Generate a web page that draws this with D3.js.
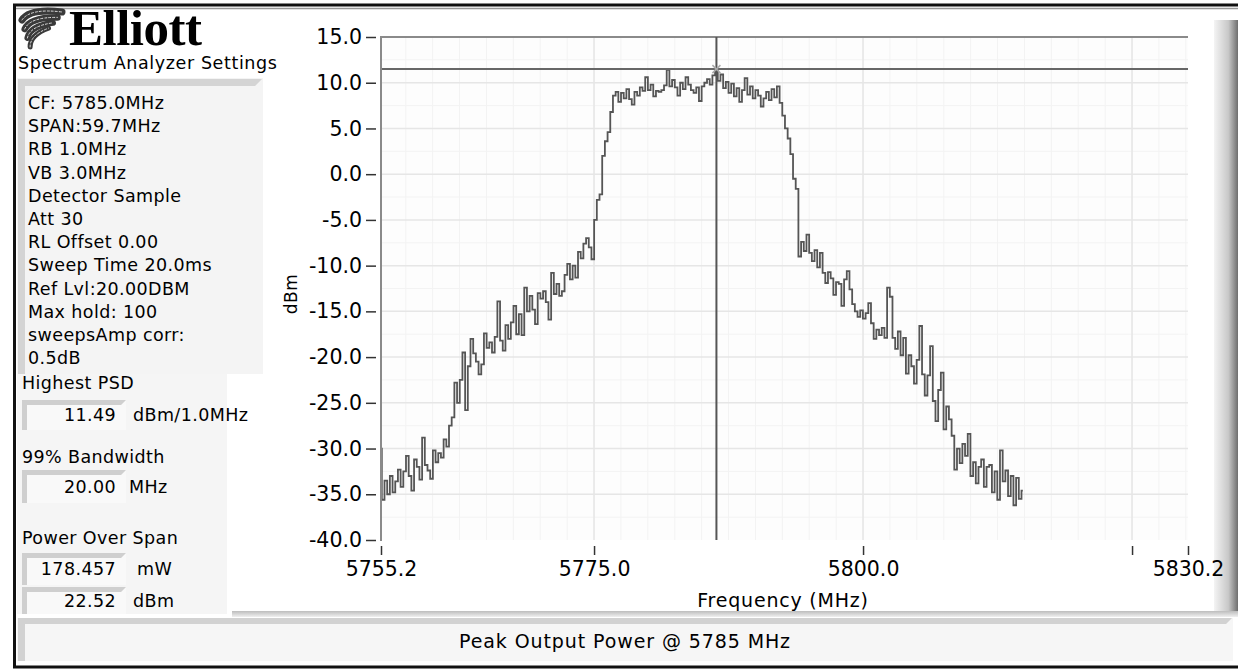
<!DOCTYPE html>
<html><head><meta charset="utf-8">
<script src="https://cdn.jsdelivr.net/npm/d3@7"></script>
<style>
html,body{margin:0;padding:0;background:#fff;}
svg{display:block;}
text{font-family:"DejaVu Sans",Verdana,sans-serif;fill:#000;}
.pt{font-size:17.5px;letter-spacing:0.4px;}
</style></head>
<body>
<svg id="chart" width="1238" height="669"></svg>
<script>
// ---- data ----
const centerFreq = 5785.0;   // MHz
const spanMHz = 59.7;        // MHz
const xDomain = [5755.2, 5830.2];
const yDomain = [-40, 15];
const yTicks = [-40, -35, -30, -25, -20, -15, -10, -5, 0, 5, 10, 15];
const xTickLabels = ["5755.2", "5775.0", "5800.0", "5830.2"];
const xTicksUnlabeled = [5825.0];
const traceDbm = [
 -30.0,-35.6,-33.5,-35.0,-33.0,-34.8,-33.6,-32.3,-34.2,-32.5,
 -30.8,-33.0,-34.6,-31.2,-32.0,-33.4,-28.8,-31.8,-32.4,-33.3,
 -30.2,-31.5,-30.5,-31.0,-29.0,-29.8,-27.5,-26.6,-22.8,-25.0,
 -22.5,-19.5,-25.8,-21.0,-18.0,-19.6,-20.5,-21.9,-20.8,-17.4,
 -19.0,-18.4,-19.5,-17.8,-13.9,-18.2,-19.3,-16.5,-18.0,-16.2,
 -14.4,-17.5,-15.3,-17.6,-12.4,-15.0,-13.3,-14.8,-16.4,-13.0,
 -13.6,-12.8,-14.0,-15.9,-10.8,-13.1,-12.0,-13.3,-12.8,-11.0,
  -9.8,-11.5,-10.0,-11.3, -8.5, -9.2, -7.6, -7.0, -8.0, -9.3,
  -5.0, -2.8, -2.2,  2.0,  3.6,  4.6,  6.8,  8.6,  9.0,  7.9,
   8.9,  8.3,  9.3,  8.2,  7.6,  9.0,  8.6,  9.5,  9.1, 10.6,
   9.2,  9.8,  8.5,  9.1,  9.0,  9.2,  9.7, 11.4,  9.6, 10.3,
   9.5,  8.6, 10.0,  9.3, 10.6,  9.8,  9.2,  8.9,  9.5,  8.0,
   9.6, 10.0, 10.4,  9.8, 10.8, 11.49,10.2, 10.9,  9.4, 10.1,
   8.9,  9.9,  8.5,  9.4,  7.9,  9.2, 10.5,  8.7,  9.6,  8.3,
   9.2,  8.6,  7.4,  8.3,  9.0,  8.1,  9.3,  8.4,  9.6,  7.8,
   6.4,  5.0,  3.9,  2.2, -0.5, -1.6, -9.0, -7.4, -8.4, -6.6,
  -8.6, -9.5, -8.3,-10.2, -8.6,-10.8,-11.9,-10.7,-11.4,-13.2,
 -11.8,-12.0,-14.4,-11.5,-10.6,-12.6,-14.2,-15.0,-15.6,-14.9,
 -15.8,-15.2,-14.1,-16.3,-18.0,-17.0,-17.6,-16.8,-17.9,-12.4,
 -13.4,-17.9,-19.1,-17.2,-19.8,-17.9,-21.8,-19.8,-21.0,-22.9,
 -20.3,-16.6,-21.9,-24.2,-22.0,-18.8,-24.8,-27.0,-23.6,-21.7,
 -27.9,-25.4,-26.8,-28.6,-32.3,-30.0,-31.6,-29.5,-30.8,-28.4,
 -33.0,-31.5,-33.8,-32.0,-31.2,-34.2,-32.0,-31.8,-34.8,-32.5,
 -35.6,-30.2,-33.6,-32.4,-35.2,-33.0,-36.2,-33.2,-35.5,-34.6
];
const settingsLines = ["CF: 5785.0MHz","SPAN:59.7MHz","RB 1.0MHz","VB 3.0MHz","Detector Sample","Att 30","RL Offset 0.00","Sweep Time 20.0ms","Ref Lvl:20.00DBM","Max hold: 100","sweepsAmp corr:","0.5dB"];
const highestPSD = "11.49";
const bandwidth99 = "20.00";
const powerMw = "178.457";
const powerDbm = "22.52";
const statusText = "Peak Output Power @ 5785 MHz";

// ---- drawing ----
const svg = d3.select("#chart");
const defs = svg.append("defs");
const g1 = defs.append("linearGradient").attr("id","scroll").attr("x1","0").attr("x2","1");
g1.append("stop").attr("offset","0").attr("stop-color","#f4f4f4");
g1.append("stop").attr("offset","0.6").attr("stop-color","#c8c8c8");
g1.append("stop").attr("offset","1").attr("stop-color","#6e6e6e");
const g3 = defs.append("linearGradient").attr("id","sep").attr("x1","0").attr("x2","0").attr("y1","0").attr("y2","1");
g3.append("stop").attr("offset","0").attr("stop-color","#bdbdbd");
g3.append("stop").attr("offset","1").attr("stop-color","#f0f0f0");

// outer frame
svg.append("rect").attr("x",0).attr("y",0).attr("width",1238).attr("height",669).attr("fill","#fff");
svg.append("line").attr("x1",13).attr("x2",1238).attr("y1",5).attr("y2",5).attr("stroke","#111").attr("stroke-width",3);
svg.append("line").attr("x1",13).attr("x2",1238).attr("y1",8.5).attr("y2",8.5).attr("stroke","#999").attr("stroke-width",1.5);
svg.append("line").attr("x1",14.5).attr("x2",14.5).attr("y1",4).attr("y2",668).attr("stroke","#111").attr("stroke-width",3);
svg.append("line").attr("x1",13).attr("x2",1238).attr("y1",667).attr("y2",667).attr("stroke","#111").attr("stroke-width",3);

// right scrollbar-like edge
svg.append("rect").attr("x",1214).attr("y",20).attr("width",24).attr("height",592).attr("fill","url(#scroll)");

// left panels
svg.append("rect").attr("x",17).attr("y",78).attr("width",246).attr("height",296).attr("fill","#f4f4f4");
svg.append("path").attr("d","M18,374 L18,79 L262,79 L255,86 L25,86 L25,374 Z").attr("fill","#d4d4d4");
svg.append("rect").attr("x",17).attr("y",374).attr("width",210).attr("height",240).attr("fill","#f5f5f5");

// logo
const logo = svg.append("g").attr("fill","none").attr("stroke","#3a3a3a").attr("stroke-linecap","round");
[[0,7],[9,6.5],[18,6],[27,5]].forEach(([dy,w])=>{
  logo.append("path").attr("d",`M${22+dy*0.3},${20+dy} Q${30},${8+dy} ${62-dy*0.5},${12+dy*0.6}`).attr("stroke-width",w);
  logo.append("path").attr("d",`M${22+dy*0.3},${20+dy} Q${30},${8+dy} ${62-dy*0.5},${12+dy*0.6}`).attr("stroke","#ddd").attr("stroke-width",1).attr("stroke-dasharray","2,2");
});
svg.append("text").attr("x",69).attr("y",45).text("Elliott")
  .style("font-family","'Liberation Serif','DejaVu Serif',serif").style("font-weight","bold").style("font-size","51px").style("letter-spacing","-0.5px");
svg.append("text").attr("x",18).attr("y",69).text("Spectrum Analyzer Settings").style("font-size","17.5px").style("letter-spacing","0.6px");

svg.append("g").selectAll("text").data(settingsLines).join("text").attr("class","pt")
  .attr("x",28).attr("y",(d,i)=>109+i*23.2).text(d=>d);

function valueBox(y, h, val, unit, unitX){
  svg.append("rect").attr("x",22).attr("y",y).attr("width",104).attr("height",h).attr("fill","#f9f9f9");
  svg.append("path").attr("d",`M22,${y+h} L22,${y} L126,${y} L121,${y+5} L27,${y+5} L27,${y+h} Z`).attr("fill","#cfcfcf");
  svg.append("text").attr("class","pt").attr("x",116).attr("y",y+h/2+6).attr("text-anchor","end").text(val);
  svg.append("text").attr("class","pt").attr("x",unitX).attr("y",y+h/2+6).text(unit);
}
svg.append("text").attr("class","pt").attr("x",22).attr("y",389).text("Highest PSD");
valueBox(400, 30, highestPSD, "dBm/1.0MHz", 133);
svg.append("text").attr("class","pt").attr("x",22).attr("y",463).text("99% Bandwidth");
valueBox(470, 33, bandwidth99, "MHz", 129);
svg.append("text").attr("class","pt").attr("x",22).attr("y",544).text("Power Over Span");
valueBox(553, 32, powerMw, "mW", 137);
valueBox(587, 27, powerDbm, "dBm", 133);

// status bar
svg.append("rect").attr("x",232).attr("y",611).attr("width",1006).attr("height",6).attr("fill","url(#sep)");
svg.append("rect").attr("x",17).attr("y",618).attr("width",1216).attr("height",43).attr("fill","#f6f6f6");
svg.append("path").attr("d","M18,661 L18,618 L1232,618 L1226,624 L25,624 L25,661 Z").attr("fill","#d2d2d2");
svg.append("text").attr("x",625).attr("y",648).attr("text-anchor","middle").text(statusText).style("font-size","19px").style("letter-spacing","0.9px");

// scales
const x = d3.scaleLinear().domain(xDomain).range([381, 1188]);
const y = d3.scaleLinear().domain(yDomain).range([540, 37]);

// plot background and grid
const plot = svg.append("g");
plot.append("rect").attr("x",x(xDomain[0])).attr("y",y(15)).attr("width",x(xDomain[1])-x(xDomain[0])).attr("height",y(-40)-y(15)).attr("fill","#fdfdfd");
const minorX = d3.range(5757.5, 5830.2, 2.5);
const minorY = d3.range(-37.5, 15, 5);
plot.append("g").selectAll("line").data(minorX).join("line")
  .attr("x1",d=>x(d)).attr("x2",d=>x(d)).attr("y1",y(15)).attr("y2",y(-40)).attr("stroke","#f3f3f3").attr("stroke-width",1);
plot.append("g").selectAll("line").data(minorY).join("line")
  .attr("y1",d=>y(d)).attr("y2",d=>y(d)).attr("x1",x(xDomain[0])).attr("x2",x(xDomain[1])).attr("stroke","#f3f3f3").attr("stroke-width",1);
plot.append("g").selectAll("line").data([5775,5800,5825]).join("line")
  .attr("x1",d=>x(d)).attr("x2",d=>x(d)).attr("y1",y(15)).attr("y2",y(-40)).attr("stroke","#e6e6e6").attr("stroke-width",1.5);
plot.append("g").selectAll("line").data(yTicks.filter(v=>v>-40&&v<15)).join("line")
  .attr("y1",d=>y(d)).attr("y2",d=>y(d)).attr("x1",x(xDomain[0])).attr("x2",x(xDomain[1])).attr("stroke","#e6e6e6").attr("stroke-width",1.5);

// frame
plot.append("line").attr("x1",x(xDomain[0])).attr("x2",x(xDomain[1])).attr("y1",y(15)).attr("y2",y(15)).attr("stroke","#8a8a8a").attr("stroke-width",2);

// y axis
const yAxis = d3.axisLeft(y).tickValues(yTicks).tickFormat(d=>d.toFixed(1)).tickSize(10).tickPadding(4);
const ya = svg.append("g").attr("transform","translate(376,0)").call(yAxis);
ya.select(".domain").remove();
ya.selectAll(".tick line").attr("stroke","#333").attr("stroke-width",1.5);
ya.selectAll(".tick text").style("font-size","20.5px").style("font-family","'DejaVu Sans',sans-serif").attr("fill","#111");
svg.append("line").attr("x1",381).attr("x2",381).attr("y1",y(15)-1).attr("y2",y(-40)+1).attr("stroke","#8a8a8a").attr("stroke-width",2);

// x axis
const xTickVals = xTickLabels.map(Number).concat(xTicksUnlabeled);
const xAxis = d3.axisBottom(x).tickValues(xTickVals)
  .tickFormat(d=>{const s=d.toFixed(1); return xTickLabels.includes(s)?s:"";}).tickSize(9).tickPadding(6);
const xa = svg.append("g").attr("transform","translate(0,546)").call(xAxis);
xa.select(".domain").remove();
xa.selectAll(".tick line").attr("stroke","#333").attr("stroke-width",1.5);
xa.selectAll(".tick text").style("font-size","20.5px").style("font-family","'DejaVu Sans',sans-serif").attr("fill","#111");

// axis titles
svg.append("text").attr("transform","translate(297,294) rotate(-90)").attr("text-anchor","middle").text("dBm").style("font-size","17px").style("letter-spacing","0.5px");
svg.append("text").attr("x",783).attr("y",607).attr("text-anchor","middle").text("Frequency (MHz)").style("font-size","19px").style("letter-spacing","0.8px");

// trace
const fStart = centerFreq - spanMHz/2;
const fStep = spanMHz/(traceDbm.length-1);
const pts = traceDbm.map((v,i)=>[fStart + i*fStep, v]);
const line = d3.line().x(d=>x(d[0])).y(d=>y(d[1])).curve(d3.curveStep);
plot.append("path").datum(pts).attr("d",line).attr("fill","none").attr("stroke","#555").attr("stroke-width",1.8).attr("stroke-linejoin","miter");

// peak marker cursor
const peak = pts.reduce((a,b)=>b[1]>a[1]?b:a);
plot.append("line").attr("x1",x(xDomain[0])).attr("x2",x(xDomain[1])).attr("y1",y(peak[1])).attr("y2",y(peak[1])).attr("stroke","#666").attr("stroke-width",2);
plot.append("line").attr("x1",x(peak[0])).attr("x2",x(peak[0])).attr("y1",y(15)).attr("y2",y(-40)).attr("stroke","#555").attr("stroke-width",2);
plot.append("path").attr("d",`M${x(peak[0])-4},${y(peak[1])-4} L${x(peak[0])+4},${y(peak[1])+4} M${x(peak[0])-4},${y(peak[1])+4} L${x(peak[0])+4},${y(peak[1])-4}`)
  .attr("stroke","#aaa").attr("stroke-width",1.5);
</script>
</body></html>
